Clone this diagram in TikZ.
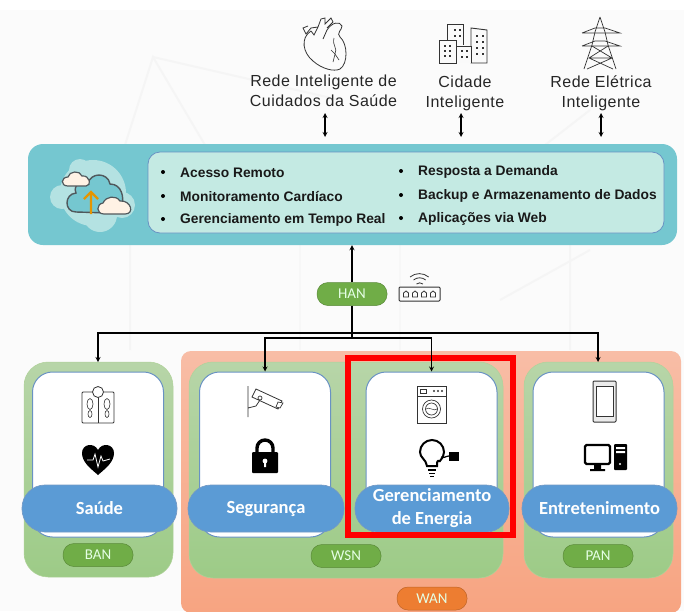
\documentclass[tikz,border=0pt]{standalone}
\usepackage{fontspec}
\setmainfont{Liberation Sans}
\newfontfamily\calibrifont{Carlito}
\usetikzlibrary{positioning}
\definecolor{tealbg}{HTML}{75C7D0}
\definecolor{tealin}{HTML}{C4EAE3}
\definecolor{bluerim}{HTML}{4F7FB8}
\definecolor{bluepill}{HTML}{5B9BD5}
\definecolor{greentop}{HTML}{B7D5A8}
\definecolor{greenbot}{HTML}{9DCB87}
\definecolor{greenpill}{HTML}{70AD47}
\definecolor{orangetop}{HTML}{F8BDA6}
\definecolor{orangebot}{HTML}{F7A481}
\definecolor{orangepill}{HTML}{ED7D31}
\definecolor{cloudline}{HTML}{50585C}
\definecolor{cloudblob}{HTML}{B4E2E2}
\tikzset{
	toptext/.style = {align=center, font=\fontsize{16}{20}\selectfont\addfontfeatures{LetterSpace=3}, text=black!85},
	bullettext/.style = {anchor=west, inner sep=0, font=\fontsize{13.8}{15}\selectfont\bfseries, text=black!90},
	groupbox/.style = {rounded corners=24pt, top color=greentop, bottom color=greenbot, draw=greenpill!55, line width=0.5pt, inner sep=0},
	whitecard/.style = {rounded corners=20pt, fill=white, draw=bluerim!85, line width=1pt, minimum width=131pt, minimum height=165pt, inner sep=0},
	bluename/.style = {rounded corners=23pt, fill=bluepill, draw=bluerim!80, line width=0.7pt, minimum height=47pt, inner sep=0, align=center, text=white, font=\calibrifont\fontsize{18.5}{23}\selectfont\bfseries},
	netpill/.style = {rounded corners=11pt, fill=greenpill, draw=greenpill!80!black, line width=0.5pt, minimum width=70pt, minimum height=23pt, inner sep=0, text=white!90!green, font=\calibrifont\fontsize{15}{18}\selectfont},
	bus/.style = {line width=1.2pt, black},
	icon/.style = {line width=0.9pt, black!80},
}
\begin{document}
\begin{tikzpicture}[x=1pt, y=-1pt, >=stealth]
	\useasboundingbox (0,0) rectangle (684,611);
	\fill[black!1.5] (0,10) rectangle (684,611);
	\draw[black!4, line width=2pt] (125,145) -- (153,57) -- (205,145) (153,57) -- (340,100) (590,110) -- (545,145);
	\draw[black!4, line width=2pt] (130,245) -- (130,350) (570,245) -- (570,350) (500,300) -- (590,250);
	\draw[black!3, line width=2pt] (300,245) -- (300,350) (400,245) -- (400,350);

	\node[rounded corners=10pt, top color=orangetop, bottom color=orangebot, minimum width=500pt, minimum height=262pt, inner sep=0] (wanbox) at (431,482) {};
	\node[groupbox, minimum width=149pt, minimum height=215pt] (banbox) at (98.5,469.5) {};
	\node[groupbox, minimum width=314pt, minimum height=216pt] (wsnbox) at (346,470) {};
	\node[groupbox, minimum width=149pt, minimum height=216pt] (panbox) at (598.5,470) {};

	\node[whitecard] (saudecard) at (98,454.5) {};
	\node[whitecard] (segcard) at (265,454.5) {};
	\node[whitecard] (energiacard) at (431.5,454.5) {};
	\node[whitecard] (entrecard) at (598.5,454.5) {};

	\node[bluename, minimum width=155pt] (saude) at (99.5,508.5) {Saúde};
	\node[bluename, minimum width=156pt] (seguranca) at (266,508.5) {Segurança};
	\node[bluename, minimum width=154pt] (energia) at (432,508.5) {Gerenciamento\\de Energia};
	\node[bluename, minimum width=155pt] (entre) at (599.5,508.5) {Entretenimento};

	\node[netpill] (ban) at (98,555) {BAN};
	\node[netpill] (wsn) at (346,556) {WSN};
	\node[netpill] (pan) at (598,556) {PAN};
	\node[netpill, fill=orangepill, draw=orangepill!80!black] (wan) at (432,598.5) {WAN};
	\node[netpill] (han) at (352,294) {HAN};

	\draw[red, line width=6pt] (348,358) rectangle (513,535);

	\node[rounded corners=15pt, fill=tealbg, minimum width=649pt, minimum height=101pt, inner sep=0] (cloudbox) at (352.5,194.5) {};
	\node[rounded corners=12pt, fill=tealin, draw=bluerim!85, line width=0.8pt, minimum width=516pt, minimum height=81pt, inner sep=0] (listbox) at (406,192.5) {};

	\foreach \ypos/\txt in {172.5/Acesso Remoto, 196.5/Monitoramento Cardíaco, 219.5/Gerenciamento em Tempo Real}
		\node[bullettext] at (180,\ypos) {\txt};
	\foreach \ypos/\txt in {171.5/Resposta a Demanda, 195.5/Backup e Armazenamento de Dados, 218.5/Aplicações via Web}
		\node[bullettext] at (418,\ypos) {\txt};
	\foreach \xpos/\ypos in {163/172, 163/196, 163/219, 401/171, 401/195, 401/218}
		\fill[black] (\xpos,\ypos) circle (2pt);

	\node[toptext] (cuidados) at (323.5,91) {Rede Inteligente de\\Cuidados da Saúde};
	\node[toptext] (cidade) at (465,93) {Cidade\\Inteligente};
	\node[toptext] (eletrica) at (601,93) {Rede Elétrica\\Inteligente};

	\coordinate (cuidadosend) at (325,113);
	\coordinate (cuidadosbase) at (325,137);
	\coordinate (cidadeend) at (461,113);
	\coordinate (cidadebase) at (461,137);
	\coordinate (eletricaend) at (601,113);
	\coordinate (eletricabase) at (601,137);
	\draw[<->, bus] (cuidadosend) -- (cuidadosbase);
	\draw[<->, bus] (cidadeend) -- (cidadebase);
	\draw[<->, bus] (eletricaend) -- (eletricabase);

	\coordinate (busupper) at (352,333);
	\coordinate (buslower) at (352,338);
	\coordinate (banin) at (98,362);
	\coordinate (panin) at (598,362);
	\draw[->, bus] (han.north) -- (han.north |- cloudbox.south);
	\draw[bus] (han.south) -- (buslower);
	\draw[->, bus] (busupper) -| (banin);
	\draw[->, bus] (busupper) -| (panin);
	\draw[->, bus] (buslower) -| (segcard.north);
	\draw[->, bus] (buslower) -| (energiacard.north);

	% cloud
	\fill[cloudblob] (93,193) circle (33pt);
	\fill[cloudblob] (62,197) circle (12pt) (122,205) circle (13pt) (80,170) circle (11pt) (100,215) circle (17pt);
	\draw[cloudline, fill=tealbg, line width=1.4pt] (76,212) .. controls (64,212) and (64,194) .. (76,193) .. controls (72,184) and (84,180) .. (88,184) .. controls (90,172) and (108,172) .. (110,184) .. controls (122,184) and (124,198) .. (122,204) -- (110,213) -- cycle;
	\draw[cloudline, fill=white!90!orange, line width=1.2pt] (68,186) .. controls (60,186) and (61,177) .. (68,177) .. controls (69,171) and (80,170) .. (82,176) .. controls (90,175) and (92,186) .. (86,186) -- cycle;
	\draw[cloudline, fill=white!90!orange, line width=1.2pt] (104,214) .. controls (96,214) and (96,204) .. (103,203) .. controls (106,196) and (116,195) .. (120,201) .. controls (131,200) and (135,214) .. (125,214) -- cycle;
	\draw[orange!70!yellow!90!black, line width=2.4pt] (91,214) -- (91,192) (84,199) -- (91,192) -- (98,199);

	% heart
	\draw[icon, line width=0.8pt] (311,31) .. controls (300,38) and (303,53) .. (313,61) .. controls (322,69) and (334,72) .. (340,69) .. controls (348,64) and (348,44) .. (340,37) .. controls (336,33) and (342,30) .. (342,26) .. controls (340,21) and (332,22) .. (327,30) -- (323,39);
	\draw[icon, line width=0.8pt] (311,31) -- (314,35) -- (318,27) -- (311,28) -- (306,34) -- (303,28) -- (308,26) (318,27) -- (321,19) -- (325,18) -- (325,24) -- (331,18) -- (333,22) -- (327,28);
	\draw[icon, line width=0.6pt] (334,38) .. controls (332,46) and (338,48) .. (335,54) -- (339,60) (335,54) -- (331,50) (335,54) -- (333,62);

	% buildings
	\draw[icon, fill=white!98!black] (447,43) -- (447,24) -- (463,24) -- (463,45);
	\draw[icon, fill=white!98!black] (471,63) -- (471,28) -- (487,30) -- (487,63) -- cycle;
	\draw[icon, fill=white!98!black] (439,63) -- (439,40) -- (456,40) -- (456,63) -- cycle;
	\draw[icon, fill=white!98!black] (456,63) -- (456,46) -- (471,46) -- (471,63);
	\foreach \xpos/\ypos in {454/29, 459/29, 454/35, 459/35, 444/45, 449/45, 444/50, 449/50, 444/55, 449/55, 461/50, 466/50, 461/56, 466/56, 476/35, 482/35, 476/41, 482/41, 476/47, 482/47, 476/53, 482/53}
		\fill[black!80] (\xpos,\ypos) rectangle ++(2,2);

	% tower
	\draw[icon, line width=0.7pt] (600,17) -- (595,32) -- (592,45) -- (584,69) (600,17) -- (605,32) -- (608,45) -- (616,69);
	\draw[icon, line width=0.7pt] (582,33) -- (595,28) -- (605,28) -- (620,33) -- (582,33) (582,46) -- (595,41) -- (605,41) -- (620,46) -- (582,46);
	\draw[icon, line width=0.7pt] (592,46) -- (612,58) -- (587,69) (608,46) -- (589,58) -- (613,69) (589,58) -- (612,58);

	% router
	\draw[icon, line width=1pt, rounded corners=1pt] (399,287) rectangle (440,301);
	\foreach \xpos in {406,415,424,433}
		\draw[icon, line width=0.8pt] (\xpos-2.5,297) -- (\xpos-2.5,293) -- (\xpos,291) -- (\xpos+2.5,293) -- (\xpos+2.5,297) -- cycle;
	\draw[icon, line width=0.8pt] (416.5,284) arc (230:310:5) (413.5,280) arc (230:310:9.5) (410,277) arc (230:310:14.5);

	% scale
	\draw[icon, line width=0.8pt, rounded corners=1pt] (82,392) rectangle (114,423);
	\draw[icon, line width=0.8pt] (98,396) -- (98,423);
	\draw[icon, line width=0.8pt, fill=white] (98,392) circle (5.5pt);
	\draw[icon, line width=0.6pt] (90,404) ellipse (3pt and 5.5pt) (107,404) ellipse (3pt and 5.5pt) (90,414) ellipse (2pt and 3.5pt) (107,414) ellipse (2pt and 3.5pt);

	% heart beat
	\fill[black] (98,475) .. controls (90,468) and (82,462) .. (82,453) .. controls (82,444) and (94,442) .. (98,450) .. controls (102,442) and (114,444) .. (114,453) .. controls (114,462) and (106,468) .. (98,475) -- cycle;
	\draw[white, line width=0.8pt] (87,460) -- (93,460) -- (95,454) -- (98,467) -- (101,456) -- (103,461) -- (110,459);

	% camera
	\draw[icon, line width=0.8pt] (248,386) -- (248,417) (248,408) -- (256,406) -- (260,400);
	\draw[icon, line width=0.8pt, fill=white] (256,389) -- (282,401) -- (278,409) -- (252,397) -- cycle;
	\draw[icon, line width=0.7pt, fill=white] (278,402) -- (283,403) -- (280,408) -- (276,407) -- cycle (260,398) circle (2pt);

	% lock
	\draw[black, line width=3.4pt] (257,453) -- (257,448) arc (180:360:8) -- (273,453);
	\fill[black, rounded corners=1pt] (252,452) rectangle (278,473);
	\fill[white] (265,461) circle (2.4pt) (264,461) rectangle (266,467);

	% washer
	\draw[icon, line width=0.8pt] (417,386) rectangle (446,423);
	\draw[icon, line width=0.7pt] (417,396) -- (446,396) (420,389) rectangle (426,393);
	\draw[icon, line width=0.7pt] (431.5,409) circle (9pt) (431.5,409) circle (6pt);
	\draw[icon, line width=0.5pt] (426,409) .. controls (429,406) and (434,412) .. (437,409);
	\foreach \xpos in {434,438,442}
		\fill[black!80] (\xpos,391) circle (1.2pt);

	% bulb
	\draw[black, line width=2pt] (427,466) .. controls (426,459) and (420,458) .. (420,452) arc (180:410:12) .. controls (437,460) and (437,462) .. (437,466) -- cycle;
	\draw[black, line width=1.6pt] (428,470) -- (436,470) (429,473.5) -- (435,473.5) (430,476.5) -- (434,476.5);
	\draw[black, line width=1.2pt] (441,457) .. controls (444,459) and (445,456) .. (449,456);
	\fill[black] (449,452) -- (459,452) -- (459,461) -- (449,461) -- cycle;

	% phone
	\draw[icon, line width=1pt, fill=black!8, rounded corners=1pt] (593,381) rectangle (616,422);
	\draw[icon, line width=0.8pt, fill=white] (596,386) rectangle (613,416);

	% computer
	\draw[black, line width=2.4pt, rounded corners=1.5pt] (585,445) rectangle (610,464);
	\fill[black] (594,465) rectangle (601,469) (590,469) rectangle (605,471);
	\fill[black, rounded corners=1pt] (614,444) rectangle (627,470);
	\fill[white] (616,447) rectangle (625,449) (616,451) rectangle (625,453) (620,464) circle (1.2pt);
\end{tikzpicture}
\end{document}
